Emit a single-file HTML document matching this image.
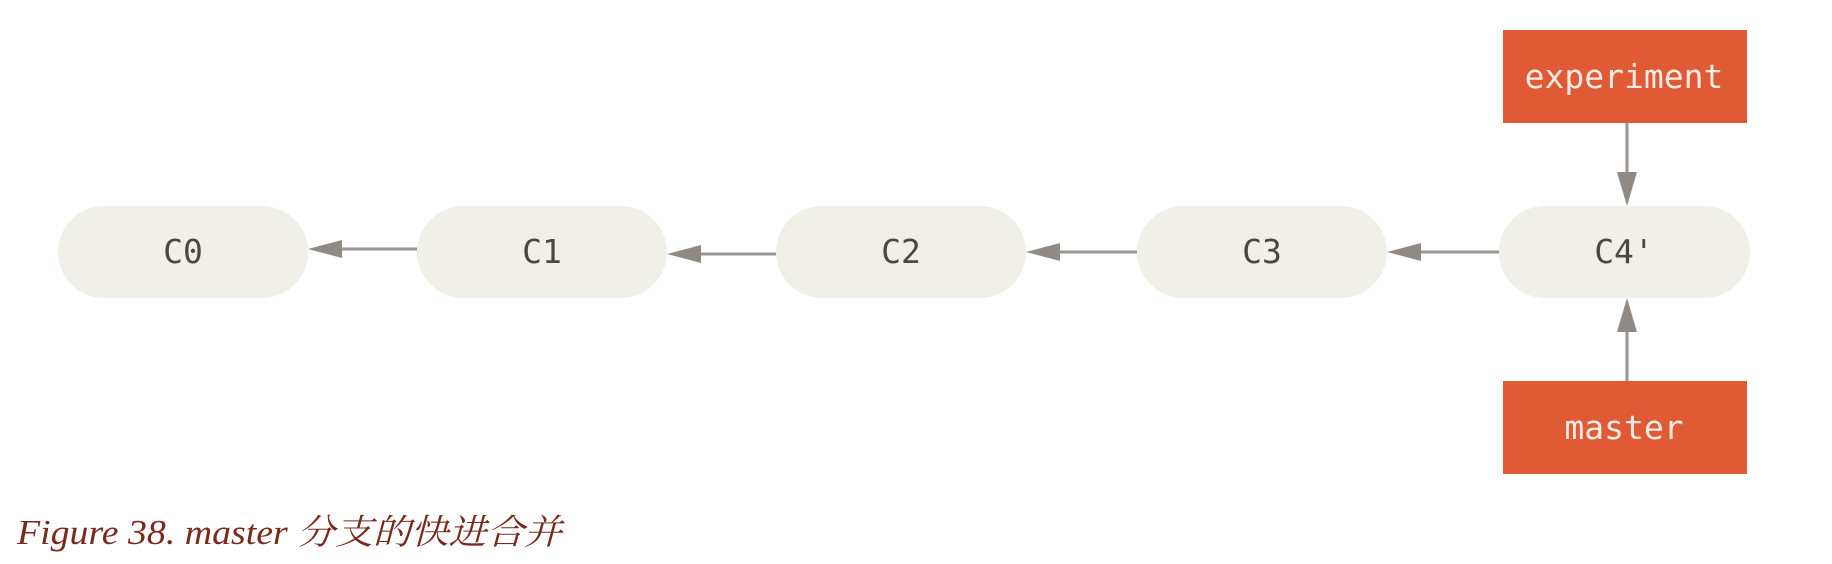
<!DOCTYPE html>
<html><head><meta charset="utf-8"><style>
html,body{margin:0;padding:0;background:#fff;width:1832px;height:564px;overflow:hidden}
</style></head><body>
<svg width="1832" height="564" viewBox="0 0 1832 564" xmlns="http://www.w3.org/2000/svg">
<g fill="#f0efe8">
<rect x="58" y="206" width="250" height="92" rx="46"/>
<rect x="417" y="206" width="250" height="92" rx="46"/>
<rect x="776" y="206" width="250" height="92" rx="46"/>
<rect x="1137" y="206" width="250" height="92" rx="46"/>
<rect x="1499" y="206" width="251" height="92" rx="46"/>
</g>
<g fill="#e05a36">
<rect x="1503" y="30" width="244" height="93"/>
<rect x="1503" y="381" width="244" height="93"/>
</g>
<g stroke="#9a968f" stroke-width="3">
<line x1="340" y1="249" x2="417" y2="249"/>
<line x1="699" y1="254" x2="776" y2="254"/>
<line x1="1058" y1="252" x2="1137" y2="252"/>
<line x1="1419" y1="252" x2="1499" y2="252"/>
<line x1="1627" y1="123" x2="1627" y2="175"/>
<line x1="1627" y1="330" x2="1627" y2="381"/>
</g>
<g fill="#8f8b84">
<polygon points="308,249 342,240 342,258"/>
<polygon points="667,254 701,245 701,263"/>
<polygon points="1026,252 1060,243 1060,261"/>
<polygon points="1387,252 1421,243 1421,261"/>
<polygon points="1627,206 1617,172 1637,172"/>
<polygon points="1627,298 1617,332 1637,332"/>
</g>
<g font-family="DejaVu Sans Mono, Liberation Mono, monospace" font-size="33" text-anchor="middle" fill="#4a4844">
<text x="183" y="263">C0</text>
<text x="542" y="263">C1</text>
<text x="901" y="263">C2</text>
<text x="1262" y="263">C3</text>
<text x="1624" y="263">C4'</text>
</g>
<g font-family="DejaVu Sans Mono, Liberation Mono, monospace" font-size="33" text-anchor="middle" fill="#f5ece6">
<text x="1624" y="88">experiment</text>
<text x="1624" y="439">master</text>
</g>
<text x="17" y="544" textLength="545" lengthAdjust="spacingAndGlyphs" font-family="Liberation Serif, 'Noto Serif CJK SC', serif" font-style="italic" font-size="35" fill="#7a2a1a">Figure 38. master 分支的快进合并</text>
</svg>
</body></html>
